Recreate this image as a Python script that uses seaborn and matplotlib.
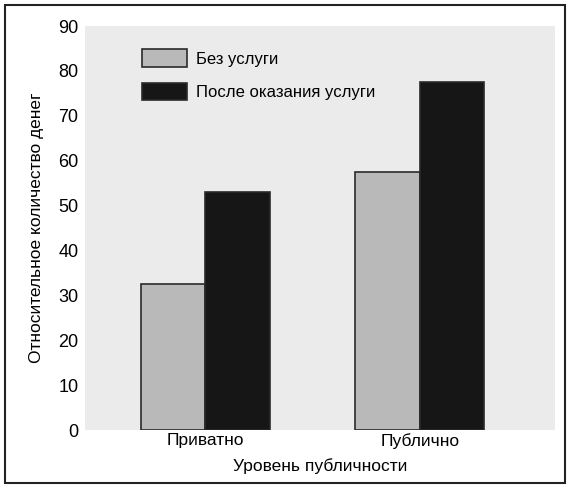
import matplotlib
matplotlib.use("Agg")
import matplotlib.pyplot as plt
import seaborn as sns
import pandas as pd
from matplotlib.patches import Rectangle

categories = ["Приватно", "Публично"]
series_names = ["Без услуги", "После оказания услуги"]
no_service = [32.5, 57.5]
after_service = [53.0, 77.5]
yticks = [0, 10, 20, 30, 40, 50, 60, 70, 80, 90]

df = pd.DataFrame({
    "cat": categories * 2,
    "series": [series_names[0]] * 2 + [series_names[1]] * 2,
    "val": no_service + after_service,
})

sns.set_theme(style="white")
plt.rcParams["font.family"] = ["Liberation Sans Narrow", "Liberation Sans", "DejaVu Sans"]
plt.rcParams["text.color"] = "black"
plt.rcParams["axes.labelcolor"] = "black"
plt.rcParams["xtick.color"] = "black"
plt.rcParams["ytick.color"] = "black"

fig = plt.figure(figsize=(5.72, 4.91), dpi=100)
ax = fig.add_axes([0.149, 0.124, 0.821, 0.823])
ax.set_facecolor("#ebebeb")

palette = {series_names[0]: "#b9b9b9", series_names[1]: "#161616"}
sns.barplot(data=df, x="cat", y="val", hue="series", palette=palette,
            width=0.6, edgecolor="#2a2a2a", linewidth=1.2, ax=ax,
            saturation=1, legend=True)

ax.set_ylim(0, 90)
ax.set_xlim(-0.56, 1.63)
ax.set_yticks(yticks)
ax.set_yticklabels([str(t) for t in yticks], fontsize=13)
ax.tick_params(axis="x", labelsize=12.5, length=0, pad=2)
ax.tick_params(axis="y", length=0, pad=5)
for s in ax.spines.values():
    s.set_visible(False)
ax.set_xlabel("Уровень публичности", fontsize=12.5, labelpad=7)
ax.set_ylabel("Относительное количество денег", fontsize=12.5, labelpad=10)

leg = ax.legend(loc="upper left", bbox_to_anchor=(0.09, 0.98), frameon=False,
                fontsize=12, handlelength=2.7, handleheight=1.25,
                labelspacing=0.95, handletextpad=0.5)

fig.add_artist(Rectangle((5 / 572, 1 - 483 / 491), 560 / 572, 478 / 491,
                         transform=fig.transFigure, fill=False,
                         edgecolor="#222222", linewidth=1.5))

fig.savefig("out.png", dpi=100, facecolor="white")
